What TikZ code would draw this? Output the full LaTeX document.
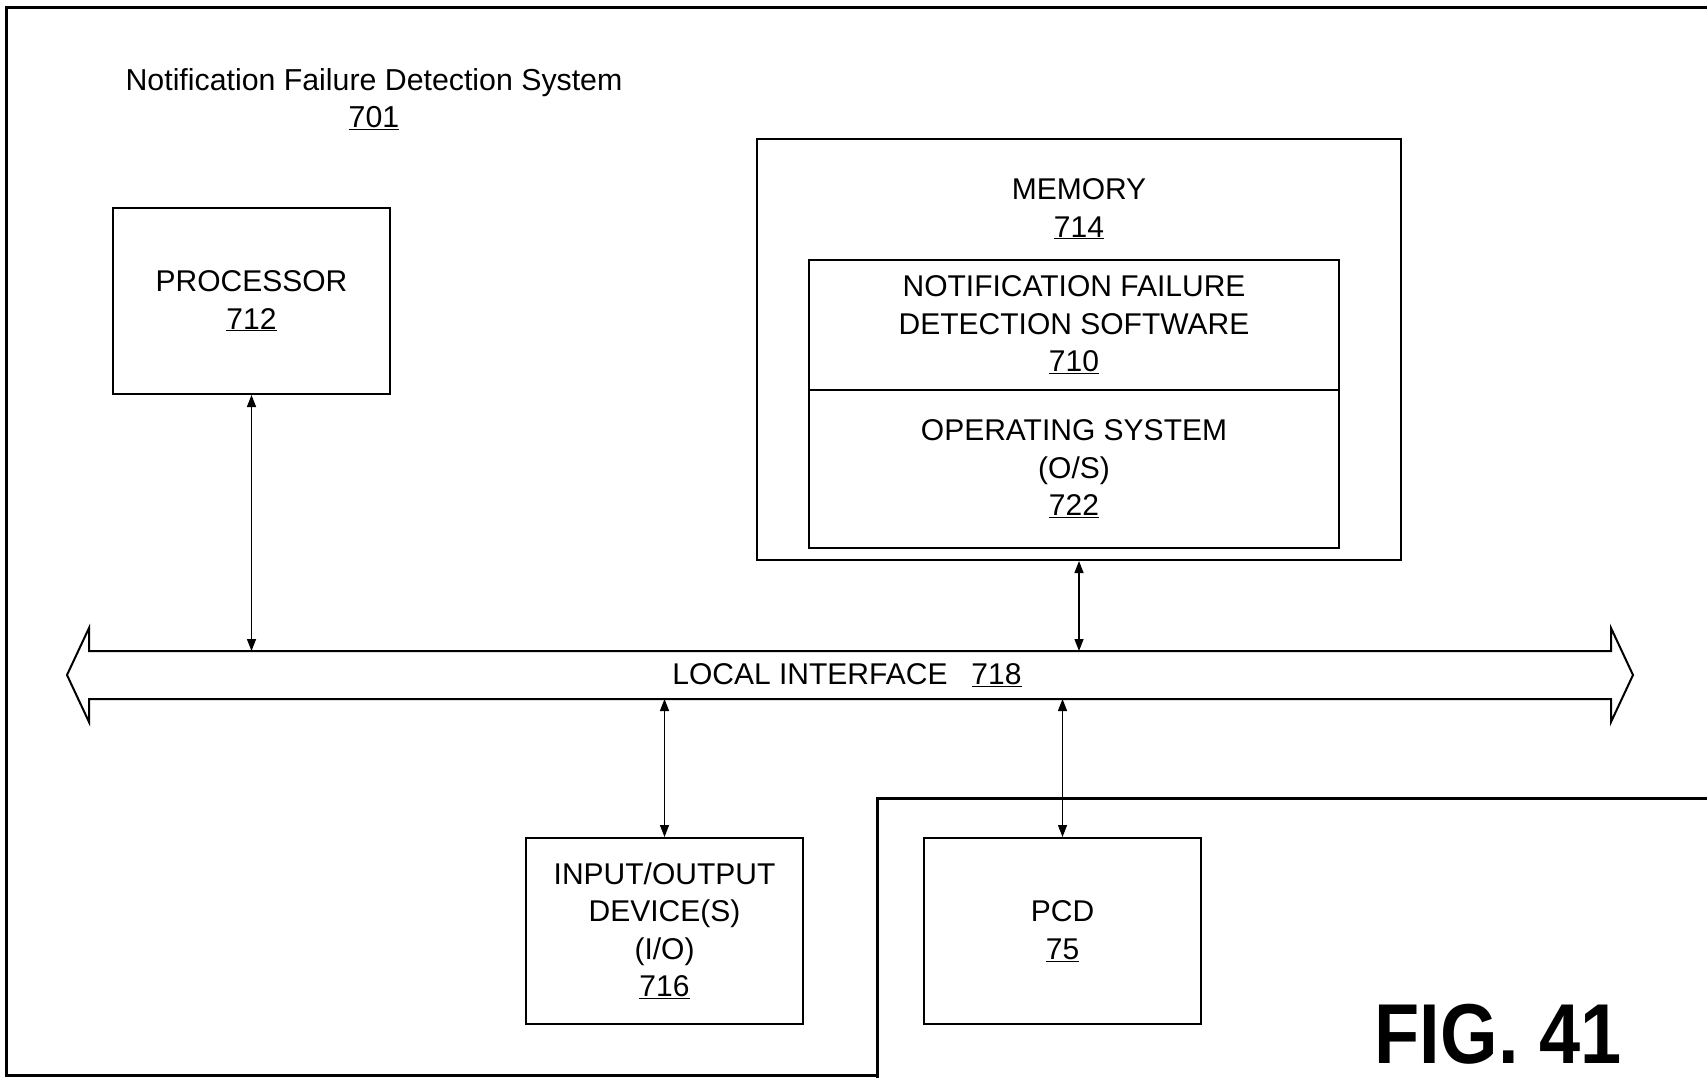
\documentclass[tikz,border=0pt]{standalone}
\usepackage{fontspec}
\usepackage{graphicx}
\setmainfont{Liberation Sans}
\usetikzlibrary{arrows.meta, positioning, calc}
\tikzset{
  every picture/.style={line width=2pt},
  box/.style={draw, align=center, inner sep=0pt, minimum width=277pt, minimum height=186pt, font=\fontsize{30}{37.5}\selectfont},
  link/.style={{Triangle[length=12pt,width=9pt]}-{Triangle[length=12pt,width=9pt]}, line width=1.4pt},
  txt/.style={align=center, font=\fontsize{30}{37.5}\selectfont},
  frame/.style={line width=3pt},
}

\begin{document}
\begin{tikzpicture}[x=1pt, y=-1pt,
  wide/.style={box, minimum width=530pt, outer sep=0pt}]
  \useasboundingbox (0,0) rectangle (1707,1078);
  % outer frames
  \draw[frame] (1707,8) -- (6,8) -- (6,1075) -- (877,1075);
  \draw[frame] (877,1078) -- (877,798) -- (1707,798);
  \node[txt, font=\fontsize{30.3}{37.5}\selectfont] (title) at (374,99) {Notification Failure Detection System\\\underline{701}};
  % boxes
  \node[box] (proc) at (251.5,301) {PROCESSOR\\\underline{712}};
  \node[box, minimum width=644pt, minimum height=421pt] (mem) at (1079,349.5) {};
  \node[txt] (memlab) at ($(mem.north)+(0,71)$) {MEMORY\\\underline{714}};
  \node[wide, minimum height=130pt] (nfds) at (1074,325) {NOTIFICATION FAILURE\\DETECTION SOFTWARE\\\underline{710}};
  \node[wide, minimum height=158pt, below=0pt of nfds] (os) {OPERATING SYSTEM\\(O/S)\\\underline{722}};
  \node[box] (io) at (664.5,931) {INPUT/OUTPUT\\DEVICE(S)\\(I/O)\\\underline{716}};
  \node[box] (pcd) at (1062.5,931) {PCD\\\underline{75}};
  % local interface
  \node[txt, minimum width=1520pt, minimum height=46pt, inner sep=0pt] (bus) at (850,675) {\hspace{-6pt}LOCAL INTERFACE\hspace{24pt}\underline{718}};
  \draw (bus.north west) -- (bus.north east) -- ++(0,-23) -- ($(bus.east)+(22,0)$) -- ($(bus.south east)+(0,23)$)
    -- (bus.south east) -- (bus.south west) -- ++(0,23) -- ($(bus.west)+(-22,0)$) -- ($(bus.north west)+(0,-23)$) -- cycle;
  \draw[link] (proc.south) -- (proc.south |- bus.north);
  \draw[link] (mem.south) -- (mem.south |- bus.north);
  \draw[link] (io.north) -- (io.north |- bus.south);
  \draw[link] (pcd.north) -- (pcd.north |- bus.south);
  \node[font=\fontsize{85}{85}\bfseries\selectfont] (fig) at (1498,1034) {\scalebox{0.87}[1]{FIG. 41}};
\end{tikzpicture}
\end{document}
